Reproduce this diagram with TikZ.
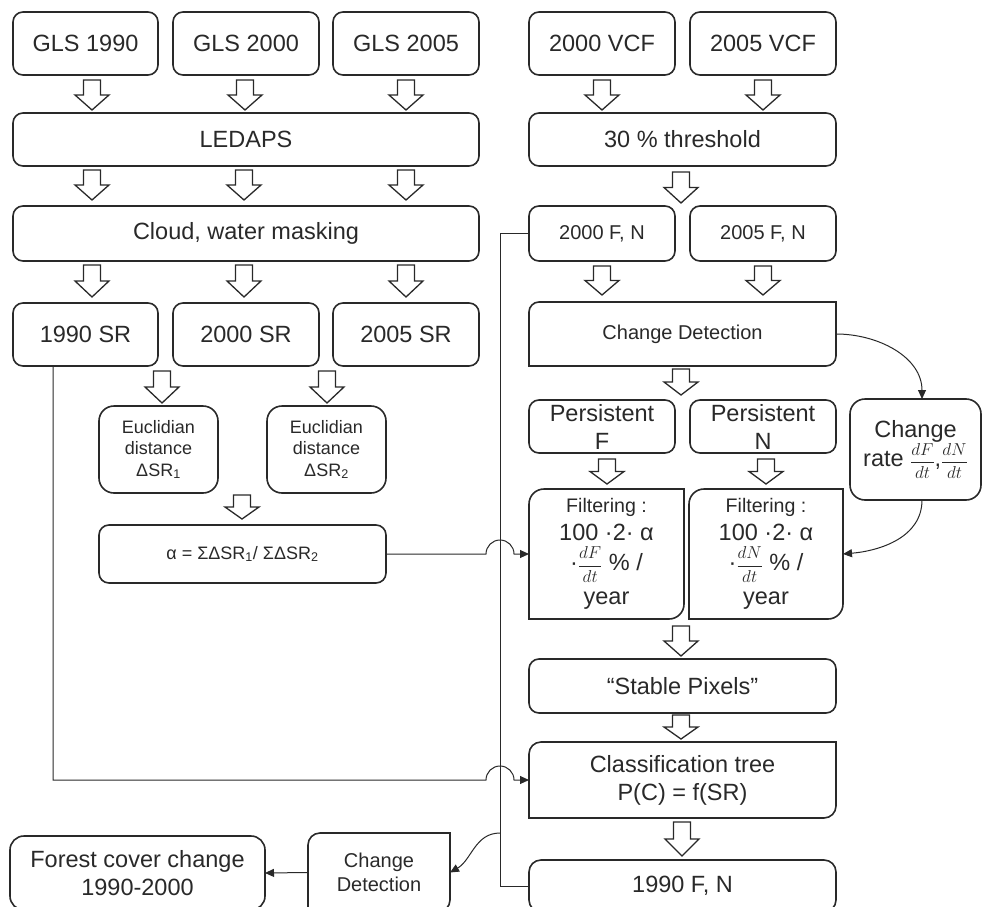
\documentclass[tikz,border=0pt]{standalone}
\usepackage{fontspec}
\setmainfont{Liberation Sans}
\usetikzlibrary{arrows.meta}
\definecolor{ink}{rgb}{0.16,0.16,0.16}

\newcommand\cutbox[2]{\draw[edge] (#1.south west) -- ([yshift=-#2]#1.north west) arc[start angle=180, end angle=90, radius=#2] -- (#1.north east) -- ([yshift=#2]#1.south east) arc[start angle=0, end angle=-90, radius=#2] -- cycle;}
\newcommand\rt[2]{{\fontsize{18}{18}\selectfont$\displaystyle\frac{#1}{#2}$}}

\tikzset{
  edge/.style={draw=ink, line width=1.6pt},
  box/.style={edge, rounded corners=10pt, align=center, inner sep=0pt, outer sep=0pt, text=ink},
  plainbox/.style={align=center, inner sep=0pt, outer sep=0pt, text=ink},
  txtl/.style={font=\fontsize{23.5}{28}\selectfont},
  txtm/.style={font=\fontsize{20}{23.5}\selectfont},
  txts/.style={font=\fontsize{18}{21.5}\selectfont},
  link/.style={draw=ink, line width=1pt, -{Triangle[length=9pt, width=8pt]}},
  wire/.style={draw=ink, line width=1pt},
  fatline/.style={draw=ink, line width=1.3pt, fill=white},
  pics/fatdown/.style={code={
    \draw[fatline] (-8.5,0) -- (8.5,0) -- (8.5,#1/2) -- (17,#1/2) -- (0,#1) -- (-17,#1/2) -- (-8.5,#1/2) -- cycle;
  }},
}

\begin{document}
\begin{tikzpicture}[x=1pt, y=-1pt]
  \useasboundingbox (0,0) rectangle (982,907);

  \node[box, txtl, minimum width=145pt, minimum height=63pt] (gls90) at (85.5,43.5) {GLS 1990};
  \node[box, txtl, minimum width=146pt, minimum height=63pt] (gls00) at (246,43.5) {GLS 2000};
  \node[box, txtl, minimum width=146pt, minimum height=63pt] (gls05) at (406,43.5) {GLS 2005};
  \node[box, txtl, minimum width=146pt, minimum height=63pt] (vcf00) at (602,43.5) {2000 VCF};
  \node[box, txtl, minimum width=146pt, minimum height=63pt] (vcf05) at (763,43.5) {2005 VCF};

  \node[box, txtl, minimum width=466pt, minimum height=53pt] (ledaps) at (246,139.5) {LEDAPS};
  \node[box, txtl, minimum width=307pt, minimum height=53pt] (thresh) at (682.5,139.5) {30 \% threshold};

  \node[box, txtl, minimum width=466pt, minimum height=55pt] (cloud) at (246,233.5) {Cloud, water masking};
  \node[box, txtm, minimum width=146pt, minimum height=55pt] (fn00) at (602,233.5) {2000 F, N};
  \node[box, txtm, minimum width=146pt, minimum height=55pt] (fn05) at (763,233.5) {2005 F, N};

  \node[box, txtl, minimum width=145pt, minimum height=63pt] (sr90) at (85.5,334.5) {1990 SR};
  \node[box, txtl, minimum width=146pt, minimum height=63pt] (sr00) at (246,334.5) {2000 SR};
  \node[box, txtl, minimum width=146pt, minimum height=63pt] (sr05) at (406,334.5) {2005 SR};
  \node[plainbox, txtm, minimum width=307pt, minimum height=64pt] (cd) at (682.5,334) {Change Detection};
  \cutbox{cd}{10pt}

  \node[box, txts, rounded corners=15pt, minimum width=119pt, minimum height=87pt] (eu1) at (158.5,449.5) {Euclidian\\distance\\ΔSR\textsubscript{1}};
  \node[box, txts, rounded corners=15pt, minimum width=119pt, minimum height=87pt] (eu2) at (326.5,449.5) {Euclidian\\distance\\ΔSR\textsubscript{2}};
  \node[box, txts, minimum width=287pt, minimum height=58pt] (alpha) at (242.5,554) {α = ΣΔSR\textsubscript{1}/ ΣΔSR\textsubscript{2}};

  \node[box, txtl, minimum width=146pt, minimum height=53pt] (persF) at (602,426.5) {Persistent\\F};
  \node[box, txtl, minimum width=146pt, minimum height=53pt] (persN) at (763,426.5) {Persistent\\N};
  \node[box, txtl, rounded corners=15pt, minimum width=131pt, minimum height=101pt] (rate) at (915.5,449.5) {Change\\rate \rt{dF}{dt},\rt{dN}{dt}};

  \node[plainbox, txtl, minimum width=155pt, minimum height=130pt] (filtF) at (606.5,554) {{\fontsize{19.6}{23}\selectfont Filtering :}\\100 ·2· α\\[2pt]·\rt{dF}{dt} \% /\\[6pt]year};
  \cutbox{filtF}{15pt}
  \node[plainbox, txtl, minimum width=154pt, minimum height=130pt] (filtN) at (766,554) {{\fontsize{19.6}{23}\selectfont Filtering :}\\100 ·2· α\\[2pt]·\rt{dN}{dt} \% /\\[6pt]year};
  \cutbox{filtN}{15pt}

  \node[box, txtl, minimum width=307pt, minimum height=54pt] (stable) at (682.5,686) {“Stable Pixels”};
  \node[plainbox, txtl, minimum width=307pt, minimum height=76pt] (classif) at (682.5,780) {Classification tree\\P(C) = f(SR)};
  \cutbox{classif}{12pt}
  \node[box, txtl, rounded corners=12pt, minimum width=307pt, minimum height=52pt] (fn90) at (682.5,886) {1990 F, N};

  \node[plainbox, txtm, minimum width=142pt, minimum height=79pt] (cdsmall) at (379,872.5) {Change\\Detection};
  \cutbox{cdsmall}{12pt}
  \node[box, txtl, rounded corners=14pt, minimum width=255pt, minimum height=74pt] (forest) at (137.5,873) {Forest cover change\\1990-2000};

  \pic at (92,80) {fatdown=30};
  \pic at (245,80) {fatdown=30};
  \pic at (406,80) {fatdown=30};
  \pic at (602,80) {fatdown=30};
  \pic at (763,80) {fatdown=30};
  \pic at (92,170) {fatdown=30};
  \pic at (244,170) {fatdown=30};
  \pic at (406,170) {fatdown=30};
  \pic at (681,172) {fatdown=31};
  \pic at (92,265) {fatdown=32};
  \pic at (244,265) {fatdown=32};
  \pic at (406,265) {fatdown=32};
  \pic at (602,266) {fatdown=29};
  \pic at (763,266) {fatdown=29};
  \pic at (162,371) {fatdown=32};
  \pic at (327,371) {fatdown=32};
  \pic at (242,495) {fatdown=24};
  \pic at (681,369) {fatdown=26};
  \pic at (607,459) {fatdown=25};
  \pic at (766,459) {fatdown=25};
  \pic at (681,626) {fatdown=30};
  \pic at (681,715) {fatdown=24};
  \pic at (682,822) {fatdown=34};

  \draw[wire] (fn00.west) -- ++(-29,0) coordinate (bend) |- (fn90.west);
  \draw[link] ([xshift=40pt]sr90.south west) |- ([xshift=-43pt]classif.west) arc[start angle=180, end angle=0, radius=14pt] -- (classif.west);
  \draw[link] (alpha.east) -- ([xshift=-43pt]filtF.west) arc[start angle=180, end angle=0, radius=14pt] -- (filtF.west);
  \draw[link] (bend |- cdsmall.north) to[out=180, in=30] (cdsmall.east);
  \draw[link] (cdsmall.west) -- (forest.east);
  \draw[link] (cd.east) to[out=0, in=90] ([xshift=6.5pt]rate.north);
  \draw[link] ([xshift=6.5pt]rate.south) to[out=-90, in=5] (filtN.east);
\end{tikzpicture}
\end{document}
